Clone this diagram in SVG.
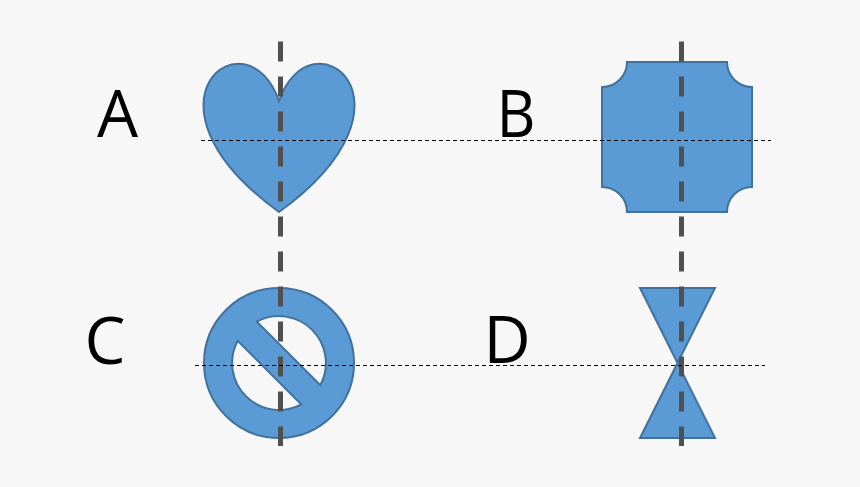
<svg xmlns="http://www.w3.org/2000/svg" width="860" height="487" viewBox="0 0 860 487">
<style>
.s{fill:#5B9BD5;stroke:#41719C;stroke-width:2;fill-rule:evenodd}
.v{stroke:#505050;stroke-width:5;stroke-dasharray:20 15;fill:none}
.h{stroke:#000;stroke-width:1;stroke-dasharray:4 3;fill:none}
text{font-family:"Open Sans","Noto Sans",sans-serif;font-size:65px;fill:#000}
</style>
<rect width="860" height="487" fill="#F7F7F7"/>
<g id="label-a"><text x="97" y="137">A</text></g>
<g id="label-b"><text x="496.5" y="137" textLength="39" lengthAdjust="spacingAndGlyphs">B</text></g>
<g id="label-c"><text x="84.5" y="363.5">C</text></g>
<g id="label-d"><text x="483.5" y="363">D</text></g>
<g id="heart"><path class="s" d="M279 101C310.25 10 432 101 279 212C126 101 247.75 10 279 101Z"/></g>
<g id="plaque"><path class="s" d="M627 62H727A25 25 0 0 0 752 87V187A25 25 0 0 0 727 212H627A25 25 0 0 0 602 187V87A25 25 0 0 0 627 62Z"/></g>
<g id="no-symbol"><path class="s" d="M354 363A75 75 0 1 1 204 363A75 75 0 1 1 354 363ZM256.8 321.7A46.9 46.9 0 0 1 320.3 385.2ZM237.7 340.8A46.9 46.9 0 0 0 301.2 404.3Z"/></g>
<g id="collate"><path class="s" d="M640 288H715L640 438H715Z"/></g>
<g id="connectors">
<path class="v" d="M280.5 41.5V446"/>
<path class="v" d="M681.5 41.5V446"/>
<path class="h" d="M201 140.5H771"/>
<path class="h" d="M195 365.5H765"/>
</g>
</svg>
